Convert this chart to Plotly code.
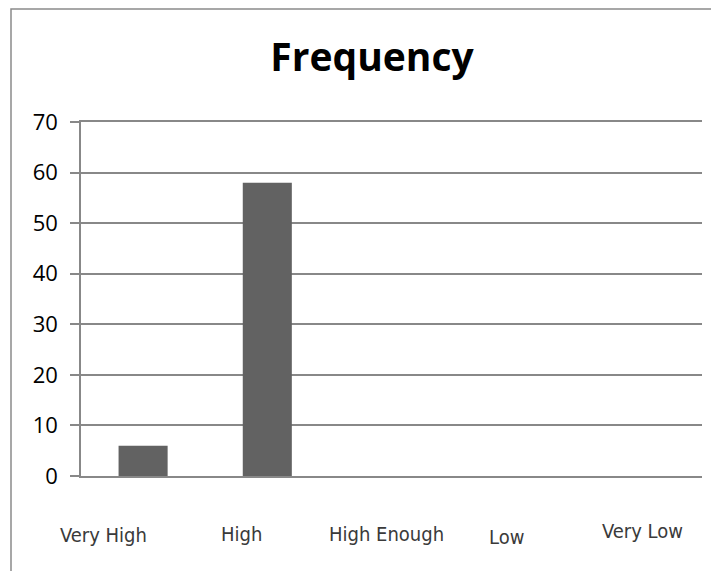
import plotly.graph_objects as go

categories = ["Very High", "High", "High Enough", "Low", "Very Low"]
frequency = [6, 58, 0, 0, 0]
y_ticks = [0, 10, 20, 30, 40, 50, 60, 70]
title_text = "Frequency"

# the page body adds an 8px margin; compensate so positions match the window
OFF = 8
W, H = 719 - OFF, 571 - OFF
L = 81 - OFF
T = 122 - OFF
R = W - (702 - OFF)
B = H - (476 - OFF)
plot_w = W - L - R
plot_h = H - T - B

def px_x(p):
    return (p - OFF - L) / plot_w

def px_y(p):
    return (H - B - (p - OFF)) / plot_h

fig = go.Figure()
fig.add_trace(go.Bar(
    x=categories, y=frequency,
    marker=dict(color="#626262", line=dict(width=0)),
    width=0.395,
))

label_pos = [(103, 535), (241.5, 534), (386, 534), (506, 537), (642, 531)]
annotations = []
for cat, (px, py) in zip(categories, label_pos):
    annotations.append(dict(
        text=cat, xref="paper", yref="paper", x=px_x(px), y=px_y(py),
        xanchor="center", yanchor="middle", showarrow=False,
        font=dict(family="Liberation Sans Narrow, DejaVu Sans Condensed, Roboto Condensed, Arial Narrow, Roboto, sans-serif",
                  size=20, color="#3a3a3a"),
    ))

fig.update_layout(
    width=W, height=H,
    margin=dict(l=L, r=R, t=T, b=B),
    paper_bgcolor="white", plot_bgcolor="white",
    showlegend=False,
    title=dict(text="<b>" + title_text + "</b>", x=(372 - OFF) / W,
               xanchor="center", y=1 - (57 - OFF) / H, yanchor="middle",
               font=dict(family="Open Sans", size=39, color="black")),
    annotations=annotations,
    shapes=[dict(type="rect", xref="paper", yref="paper",
                 x0=px_x(11), x1=px_x(724), y0=px_y(585), y1=px_y(9),
                 line=dict(color="#8a8a8a", width=1.5), fillcolor="rgba(0,0,0,0)", layer="below")],
    xaxis=dict(range=[-0.5, 4.5], showticklabels=False, ticks="", showgrid=False,
               showline=True, mirror=True, linecolor="#888888", linewidth=1.5,
               zeroline=False, fixedrange=True),
    yaxis=dict(range=[0, 70], tickvals=y_ticks, ticks="outside", ticklen=9,
               tickcolor="#888888", tickwidth=1.5,
               showgrid=True, gridcolor="#888888", gridwidth=1.5,
               showline=True, linecolor="#888888", linewidth=1.5, zeroline=False,
               tickfont=dict(family="Open Sans", size=22, color="black"),
               ticklabelstandoff=8, fixedrange=True),
)

fig.write_html("out.html")
